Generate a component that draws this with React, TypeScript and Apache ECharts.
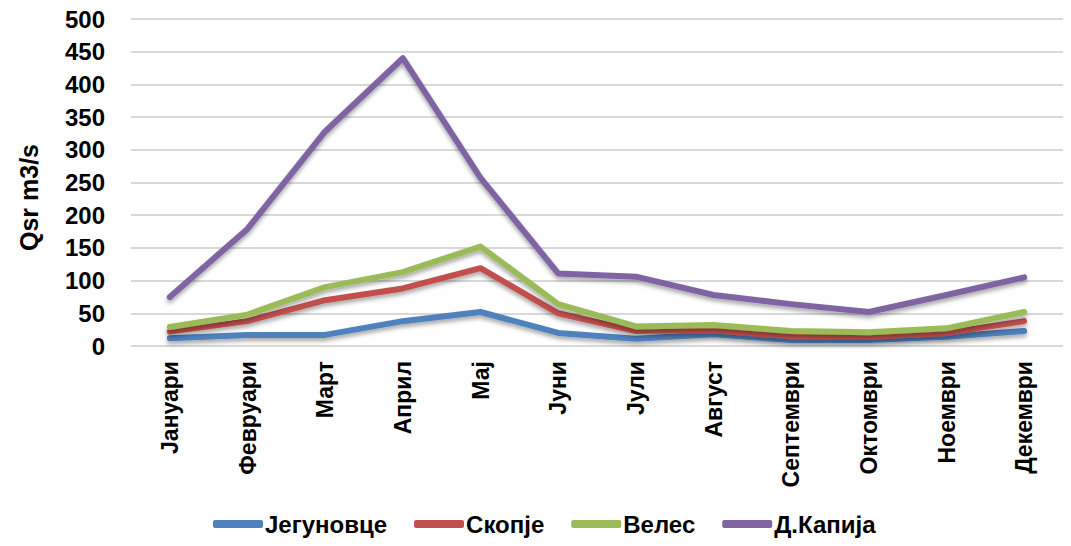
import React, { useEffect, useRef } from "react";
import * as echarts from "echarts";

const months = ["Јануари", "Февруари", "Март", "Април", "Мај", "Јуни", "Јули", "Август", "Септември", "Октомври", "Ноември", "Декември"];
const seriesNames = ["Јегуновце", "Скопје", "Велес", "Д.Капија"];
const jegunovce = [12, 17, 17, 38, 52, 20, 11, 18, 9, 9, 14, 23];
const skopje = [22, 38, 70, 88, 119, 50, 23, 24, 15, 14, 20, 38];
const veles = [29, 48, 90, 113, 152, 64, 30, 32, 23, 21, 27, 52];
const dKapija = [75, 179, 328, 440, 257, 111, 106, 78, 64, 52, 78, 105];
const colors = ["#4F81BD", "#C0504D", "#9BBB59", "#8064A2"];
const yAxisName = "Qsr m3/s";

const FONT = "'Liberation Sans', Arial, sans-serif";

export default function App() {
  const ref = useRef<HTMLDivElement>(null);
  useEffect(() => {
    if (!ref.current) return;
    const chart = echarts.init(ref.current, undefined, { renderer: "svg" });
    const data = [jegunovce, skopje, veles, dKapija];
    chart.setOption({
      animation: false,
      backgroundColor: "#fff",
      textStyle: { fontFamily: FONT },
      grid: { left: 131, right: 8, top: 19, bottom: 200 },
      legend: {
        bottom: 5,
        left: 208,
        itemWidth: 50,
        itemHeight: 8,
        itemGap: 27,
        icon: "roundRect",
        textStyle: { fontSize: 24, fontWeight: "bold", color: "#000", fontFamily: FONT, padding: [0, 0, 0, -3] },
        data: seriesNames,
      },
      xAxis: {
        type: "category",
        data: months,
        boundaryGap: true,
        axisLine: { lineStyle: { color: "#BFBFBF", width: 3, shadowColor: "rgba(0,0,0,0.3)", shadowBlur: 3, shadowOffsetY: 2 } },
        axisTick: { show: false },
        axisLabel: { rotate: 90, fontSize: 23, fontWeight: "bold", color: "#000", margin: 15, interval: 0, fontFamily: FONT },
      },
      yAxis: {
        type: "value",
        min: 0,
        max: 500,
        interval: 50,
        name: yAxisName,
        nameLocation: "middle",
        nameGap: 90,
        nameTextStyle: { fontSize: 25, fontWeight: "bold", color: "#000", fontFamily: FONT, padding: [0, 30, 0, 0] },
        axisLine: { show: true, lineStyle: { color: "#BFBFBF", width: 3, shadowColor: "rgba(0,0,0,0.3)", shadowBlur: 3, shadowOffsetX: 2 } },
        axisTick: { show: false },
        axisLabel: { fontSize: 24, fontWeight: "bold", color: "#000", margin: 26, fontFamily: FONT },
        splitLine: { lineStyle: { color: "#D9D9D9", width: 2 } },
      },
      series: seriesNames.map((name, i) => ({
        name,
        type: "line",
        data: data[i],
        symbol: "none",
        color: colors[i],
        lineStyle: {
          width: 6,
          color: colors[i],
          cap: "round",
          join: "round",
          shadowColor: "rgba(0,0,0,0.35)",
          shadowBlur: 4,
          shadowOffsetY: 3,
        },
      })),
    });
    return () => chart.dispose();
  }, []);
  return <div ref={ref} style={{ position: "fixed", left: 0, top: 0, width: 1071, height: 546 }} />;
}
